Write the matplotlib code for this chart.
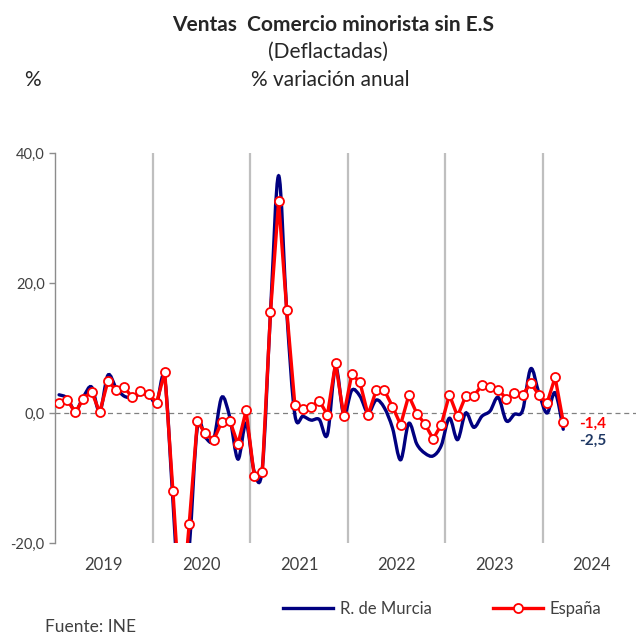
import numpy as np
import matplotlib.pyplot as plt
from matplotlib.path import Path
from matplotlib.patches import PathPatch
from matplotlib.lines import Line2D

plt.rcParams['font.family'] = ['Lato', 'DejaVu Sans']

# Monthly data, Jan 2019 .. Mar 2024 (% annual change)
years = ['2019', '2020', '2021', '2022', '2023', '2024']
espana = [1.5, 2.0, 0.1, 2.2, 3.3, 0.1, 4.9, 3.6, 4.0, 2.4, 3.4, 2.9,
          1.6, 6.3, -12.0, -31.5, -17.1, -1.3, -3.1, -4.2, -1.4, -1.2, -4.8, 0.4,
          -9.7, -9.1, 15.5, 32.6, 15.8, 1.2, 0.6, 1.0, 1.9, -0.3, 7.7, -0.4,
          6.0, 4.7, -0.3, 3.5, 3.5, 1.0, -1.8, 2.7, -0.1, -1.7, -4.0, -1.8,
          2.8, -0.5, 2.6, 2.6, 4.3, 4.0, 3.6, 2.2, 3.1, 2.8, 4.6, 2.8,
          1.5, 5.5, -1.4]
murcia = [2.8, 2.3, 0.3, 2.5, 4.0, 0.2, 5.8, 3.9, 2.6, 2.4, 2.9, 2.8,
          1.6, 5.2, -13.5, -32.0, -21.0, -2.3, -3.8, -4.1, 2.4, -0.7, -7.1, -1.6,
          -9.0, -8.4, 15.5, 36.5, 15.5, -0.3, -0.5, -1.1, -1.0, -3.3, 7.0, -0.2,
          3.5, 2.6, 0.0, 2.0, 0.8, -2.3, -7.2, -1.6, -4.8, -6.2, -6.6, -5.0,
          -0.8, -4.1, 0.0, -2.2, -0.5, 0.3, 2.4, -1.2, -0.2, 0.4, 6.8, 3.1,
          0.0, 3.1, -2.5]

x = np.arange(len(espana)) + 0.5


def smooth_path(xs, ys):
    # Excel-style smoothed line: Catmull-Rom segments as cubic Bezier curves
    pts = np.column_stack([xs, ys])
    n = len(pts)
    verts = [pts[0]]
    codes = [Path.MOVETO]
    for i in range(n - 1):
        p0 = pts[i - 1] if i > 0 else pts[i]
        p1 = pts[i]
        p2 = pts[i + 1]
        p3 = pts[i + 2] if i + 2 < n else pts[i + 1]
        c1 = p1 + (p2 - p0) / 6.0
        c2 = p2 - (p3 - p1) / 6.0
        verts += [c1, c2, p2]
        codes += [Path.CURVE4] * 3
    return Path(verts, codes)


fig = plt.figure(figsize=(6.36, 6.34), dpi=100)
ax = fig.add_axes([55 / 636, 91 / 634, 585.5 / 636, 390 / 634])

ax.set_xlim(0, 72)
ax.set_ylim(-20, 40)

for k in range(1, 6):
    ax.axvline(12 * k, color='#bfbfbf', lw=1.6, zorder=1)
ax.axhline(0, color='#808080', lw=0.9, ls=(0, (4, 3)), zorder=1)

patch = PathPatch(smooth_path(x, murcia), facecolor='none',
                  edgecolor='#000080', lw=2.4, zorder=3, capstyle='round')
ax.add_patch(patch)
esp_line, = ax.plot(x, espana, color='#ff0000', lw=2.4, marker='o',
                    markersize=6.5, markerfacecolor='white',
                    markeredgecolor='#ff0000', markeredgewidth=1.3, zorder=4)

for s in ['top', 'right', 'bottom']:
    ax.spines[s].set_visible(False)
ax.spines['left'].set_color('#8c8c8c')
ax.spines['left'].set_linewidth(1.0)

ax.set_yticks([-20, 0, 20, 40])
ax.set_yticklabels(['-20,0', '0,0', '20,0', '40,0'])
ax.tick_params(axis='y', colors='#8c8c8c', labelcolor='#404040',
               labelsize=10.5, length=4, width=1.0)
ax.set_xticks([])

for k, yr in enumerate(years):
    ax.text(12 * k + 6, -22.2, yr, ha='center', va='top', fontsize=12,
            color='#404040')

ax.text(x[-1] + 2.0, espana[-1] - 0.3, '-1,4', color='#ff0000',
        fontsize=11, fontweight='bold', ha='left', va='center')
ax.text(x[-1] + 2.0, murcia[-1] - 1.7, '-2,5', color='#1f3864',
        fontsize=11, fontweight='bold', ha='left', va='center')

fig.text(333 / 636, 1 - 25 / 634, 'Ventas  Comercio minorista sin E.S',
         ha='center', va='center', fontsize=15, fontweight='bold',
         color='#262626')
fig.text(328 / 636, 1 - 52 / 634, '(Deflactadas)', ha='center', va='center',
         fontsize=15, color='#262626')
fig.text(330 / 636, 1 - 80 / 634, '% variación anual', ha='center',
         va='center', fontsize=15, color='#262626')
fig.text(32 / 636, 1 - 80 / 634, '%', ha='center', va='center',
         fontsize=15, color='#262626')

fig.text(45 / 636, 1 - 627 / 634, 'Fuente: INE', ha='left', va='center',
         fontsize=12.5, color='#404040')

mur_handle = Line2D([], [], color='#000080', lw=2.4)
fig.legend([mur_handle], ['R. de Murcia'],
           loc='center left', bbox_to_anchor=(268 / 636, 1 - 609 / 634),
           frameon=False, fontsize=12, handlelength=3.0, handletextpad=0.4,
           labelcolor='#404040')
fig.legend([esp_line], ['España'],
           loc='center left', bbox_to_anchor=(478 / 636, 1 - 609 / 634),
           frameon=False, fontsize=12, handlelength=3.0, handletextpad=0.4,
           labelcolor='#404040')

fig.savefig('out.png', dpi=100)
